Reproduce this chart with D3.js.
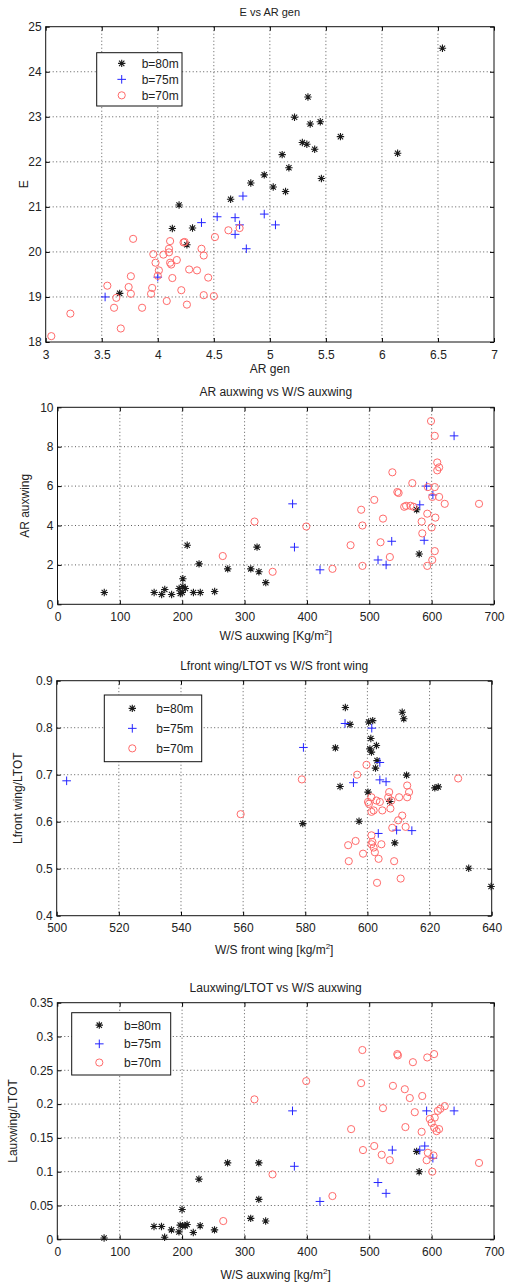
<!DOCTYPE html>
<html>
<head>
<meta charset="utf-8">
<script src="https://cdn.jsdelivr.net/npm/d3@7"></script>
<style>
  body { margin: 0; background: #fff; }
  text { font-family: "Liberation Sans", Arial, sans-serif; fill: #222; }
</style>
</head>
<body>
<svg id="svg" width="505" height="1283"></svg>
<script>
// series labels
var seriesNames = ["b=80m", "b=75m", "b=70m"];

// panel 1 : E vs AR gen  [AR gen, E]
var eAr80 = [[3.66,19.08],[4.19,21.04],[4.13,20.52],[4.31,20.53],[4.26,20.16],[4.65,21.17],[4.83,21.53],
  [4.95,21.71],[5.03,21.44],[5.14,21.34],[5.17,21.87],[5.11,22.16],[5.22,22.99],[5.29,22.43],[5.33,22.39],
  [5.34,23.44],[5.36,22.84],[5.40,22.28],[5.45,22.89],[5.46,21.63],[5.63,22.56],[6.14,22.19],[6.54,24.52]];
var eAr75 = [[3.53,19.0],[4.0,19.44],[4.39,20.65],[4.53,20.78],[4.76,21.24],[4.69,20.76],[4.69,20.39],
  [4.73,20.6],[4.79,20.07],[4.95,20.84],[5.05,20.6]];
var eAr70 = [[3.05,18.13],[3.22,18.63],[3.55,19.25],[3.63,18.98],[3.61,18.76],[3.67,18.30],[3.76,19.46],
  [3.74,19.22],[3.76,19.07],[3.86,18.76],[3.78,20.29],[3.95,19.2],[3.94,19.07],[3.96,19.95],[3.98,19.76],
  [4.01,19.59],[4.0,19.47],[4.08,18.91],[4.05,19.94],[4.11,20.24],[4.10,20.07],[4.10,19.99],[4.11,19.76],
  [4.12,19.72],[4.17,19.82],[4.13,19.42],[4.21,19.15],[4.26,18.83],[4.24,20.22],[4.23,20.21],[4.28,19.61],
  [4.35,19.59],[4.39,20.07],[4.41,19.92],[4.45,19.43],[4.41,19.04],[4.50,19.02],[4.51,20.33],[4.63,20.48],
  [4.73,20.53]];
var eArXTicks = [3, 3.5, 4, 4.5, 5, 5.5, 6, 6.5, 7];
var eArYTicks = [18, 19, 20, 21, 22, 23, 24, 25];

// panel 2 : AR auxwing vs W/S auxwing
var arAux80 = [[75,0.6],[155,0.6],[167,0.5],[172,0.75],[183,0.5],[195,0.8],[197,0.55],[200,0.6],[201,0.9],
  [201,1.3],[205,0.8],[208,3.0],[218,0.6],[229,0.6],[227,2.05],[252,0.65],[273,1.8],[310,1.8],[320,2.9],
  [323,1.65],[334,1.1],[576,4.8],[580,2.55]];
var arAux75 = [[377,5.1],[380,2.9],[421,1.75],[514,2.25],[527,2.0],[536,3.2],[581,5.05],[588,3.25],
  [592,6.0],[602,5.55],[636,8.55]];
var arAux70 = [[265,2.45],[316,4.2],[345,1.65],[399,3.95],[441,1.8],[470,3.0],[487,4.8],[489,4.0],[489,1.95],
  [508,5.3],[518,3.15],[522,4.35],[533,2.4],[537,6.7],[545,5.7],[547,5.65],[556,4.95],[559,5.0],[566,5.0],
  [571,4.95],[569,6.15],[584,4.2],[585,3.6],[593,4.6],[593,1.95],[594,5.95],[599,9.3],[605,8.55],[600,3.9],
  [601,2.25],[605,2.7],[606,4.4],[605,5.95],[601,5.45],[609,7.2],[612,6.95],[609,6.8],[612,5.45],[621,5.1],
  [676,5.1]];
var wsAuxTicks = [0, 100, 200, 300, 400, 500, 600, 700];
var arAuxYTicks = [0, 2, 4, 6, 8, 10];

// panel 3 : Lfront wing/LTOT vs W/S front wing
var lFront80 = [[592.9,0.843],[594.4,0.807],[600.4,0.812],[601.7,0.815],[611.2,0.833],[611.7,0.819],
  [601.1,0.777],[602.9,0.762],[600.8,0.755],[601.3,0.748],[603.1,0.73],[602.6,0.714],[589.7,0.757],
  [612.6,0.699],[591.2,0.675],[621.7,0.672],[622.8,0.674],[600.2,0.663],[607.2,0.643],[597.3,0.601],
  [579.2,0.596],[608.8,0.555],[632.6,0.501],[639.8,0.462]];
var lFront75 = [[503.2,0.687],[579.4,0.758],[592.8,0.809],[601.4,0.799],[604,0.726],[595.5,0.683],
  [604,0.689],[606,0.685],[603.5,0.575],[609.4,0.582],[614.3,0.581]];
var lFront70 = [[559.2,0.616],[578.9,0.69],[596.7,0.7],[599.7,0.721],[629.2,0.692],[600.2,0.642],
  [600.5,0.638],[601.3,0.652],[602.9,0.645],[604,0.642],[607,0.663],[606.7,0.652],[607.7,0.645],
  [610.2,0.652],[612.8,0.652],[612.8,0.677],[613.4,0.663],[601.3,0.621],[602,0.624],[604.8,0.624],
  [607.4,0.628],[611.2,0.613],[609.9,0.603],[608,0.587],[612.3,0.589],[596.2,0.559],[593.8,0.55],
  [598.6,0.532],[601.3,0.571],[601.6,0.557],[601.3,0.552],[602,0.545],[604.5,0.552],[602.4,0.535],
  [603.6,0.521],[594,0.516],[608.6,0.516],[603.1,0.47],[610.7,0.479]];
var wsFrontTicks = [500, 520, 540, 560, 580, 600, 620, 640];
var lFrontYTicks = [0.4, 0.5, 0.6, 0.7, 0.8, 0.9];

// panel 4 : Lauxwing/LTOT vs W/S auxwing
var lAux80 = [[75,0.002],[155,0.019],[167,0.019],[172,0.003],[183,0.014],[195,0.011],[197,0.021],
  [200,0.044],[201,0.02],[205,0.02],[208,0.022],[218,0.01],[229,0.02],[227,0.089],[252,0.014],
  [273,0.113],[310,0.031],[323,0.113],[323,0.059],[334,0.027],[576,0.13],[580,0.1]];
var lAux75 = [[377,0.19],[380,0.108],[421,0.056],[514,0.084],[527,0.068],[537,0.132],[581,0.132],
  [589,0.138],[592,0.19],[602,0.12],[636,0.19]];
var lAux70 = [[266,0.027],[316,0.207],[345,0.096],[399,0.234],[441,0.064],[471,0.163],[487,0.231],
  [489,0.28],[490,0.132],[508,0.138],[520,0.125],[522,0.194],[533,0.117],[538,0.227],[545,0.274],
  [546,0.272],[557,0.222],[558,0.166],[565,0.209],[570,0.262],[573,0.188],[585,0.212],[584,0.159],
  [593,0.269],[604,0.274],[592,0.117],[594,0.128],[603,0.124],[597,0.178],[600,0.172],[605,0.18],
  [604,0.165],[608,0.16],[612,0.163],[610,0.19],[614,0.193],[621,0.197],[601,0.1],[676,0.113]];
var lAuxYTicks = [0, 0.05, 0.1, 0.15, 0.2, 0.25, 0.3, 0.35];

var svg = d3.select("#svg");

var starPath = function(cx, cy, s) {
  var d = s * 0.72;
  return "M" + (cx - s) + "," + cy + "H" + (cx + s) +
    "M" + cx + "," + (cy - s) + "V" + (cy + s) +
    "M" + (cx - d) + "," + (cy - d) + "L" + (cx + d) + "," + (cy + d) +
    "M" + (cx - d) + "," + (cy + d) + "L" + (cx + d) + "," + (cy - d);
};
var plusPath = function(cx, cy, s) {
  return "M" + (cx - s) + "," + cy + "H" + (cx + s) + "M" + cx + "," + (cy - s) + "V" + (cy + s);
};

var drawMarks = function(g, pts, kind) {
  if (kind == 0) {
    g.selectAll(null).data(pts).enter().append("path")
      .attr("d", function(d) { return starPath(d[0], d[1], 3.7); })
      .attr("stroke", "#1a1a1a").attr("stroke-width", 1.1).attr("fill", "none");
  } else if (kind == 1) {
    g.selectAll(null).data(pts).enter().append("path")
      .attr("d", function(d) { return plusPath(d[0], d[1], 4.3); })
      .attr("stroke", "#2424ff").attr("stroke-width", 1).attr("fill", "none");
  } else {
    g.selectAll(null).data(pts).enter().append("circle")
      .attr("cx", function(d) { return d[0]; })
      .attr("cy", function(d) { return d[1]; })
      .attr("r", 3.6)
      .attr("stroke", "#ff6b6b").attr("stroke-width", 1).attr("fill", "none");
  }
};

var panel = function(o) {
  var x = d3.scaleLinear().domain(o.xDom).range([o.l, o.r]);
  var y = d3.scaleLinear().domain(o.yDom).range([o.b, o.t]);
  var g = svg.append("g");

  // dotted grid
  g.selectAll(null).data(o.xTicks.slice(1, -1)).enter().append("line")
    .attr("x1", x).attr("x2", x).attr("y1", o.t).attr("y2", o.b)
    .attr("stroke", "#333").attr("stroke-width", 0.8).attr("stroke-dasharray", "1,2.5");
  g.selectAll(null).data(o.yTicks.slice(1, -1)).enter().append("line")
    .attr("y1", y).attr("y2", y).attr("x1", o.l).attr("x2", o.r)
    .attr("stroke", "#333").attr("stroke-width", 0.8).attr("stroke-dasharray", "1,2.5");

  // axes, ticks pointing inward
  var fmt = function(d) { return String(d); };
  g.append("g").attr("transform", "translate(0," + o.b + ")")
    .call(d3.axisBottom(x).tickValues(o.xTicks).tickFormat(fmt).tickSize(-4).tickSizeOuter(0).tickPadding(8));
  g.append("g").attr("transform", "translate(0," + o.t + ")")
    .call(d3.axisTop(x).tickValues(o.xTicks).tickFormat("").tickSize(-4).tickSizeOuter(0));
  g.append("g").attr("transform", "translate(" + o.l + ",0)")
    .call(d3.axisLeft(y).tickValues(o.yTicks).tickFormat(fmt).tickSize(-4).tickSizeOuter(0).tickPadding(4));
  g.append("g").attr("transform", "translate(" + o.r + ",0)")
    .call(d3.axisRight(y).tickValues(o.yTicks).tickFormat("").tickSize(-4).tickSizeOuter(0));
  g.selectAll(".tick text").attr("font-size", 12).attr("font-family", null).style("fill", "#222");
  g.selectAll(".domain").remove();

  g.append("rect").attr("x", o.l).attr("y", o.t).attr("width", o.r - o.l).attr("height", o.b - o.t)
    .attr("fill", "none").attr("stroke", "#111").attr("stroke-width", 1);

  // data
  o.series.forEach(function(s, i) {
    var pts = s.map(function(d) { return [x(d[0]), y(d[1])]; });
    drawMarks(g, pts, i);
  });

  // texts
  g.append("text").attr("x", (o.l + o.r) / 2).attr("y", o.t - 11).attr("text-anchor", "middle")
    .attr("font-size", o.titleSize || 12).text(o.title);
  g.append("text").attr("x", (o.l + o.r) / 2).attr("y", o.xlY).attr("text-anchor", "middle")
    .attr("font-size", 12).html(o.xlabel);
  g.append("text").attr("transform", "translate(" + o.ylX + "," + (o.t + o.b) / 2 + ") rotate(-90)")
    .attr("text-anchor", "middle").attr("font-size", 12).text(o.ylabel);

  // legend (box x, y, w, h, marker offset, text offset)
  if (!o.lg) return;
  var lg = g.append("g");
  lg.append("rect").attr("x", o.lg[0]).attr("y", o.lg[1]).attr("width", o.lg[2]).attr("height", o.lg[3])
    .attr("fill", "#fff").attr("stroke", "#111").attr("stroke-width", 1);
  seriesNames.forEach(function(name, i) {
    var cy = o.lg[1] + o.lg[3] * (0.2 + 0.3 * i);
    drawMarks(lg, [[o.lg[0] + o.lg[4], cy]], i);
    lg.append("text").attr("x", o.lg[0] + o.lg[5]).attr("y", cy + 4.5).attr("font-size", 12).text(name);
  });
};

var sq = "<tspan dy='-5' font-size='8'>2</tspan><tspan dy='5'>]</tspan>";

panel({ l: 45.7, r: 494, t: 26.7, b: 342, xDom: [3, 7], yDom: [18, 25],
  xTicks: eArXTicks, yTicks: eArYTicks, series: [eAr80, eAr75, eAr70],
  title: "E vs AR gen", titleSize: 11, xlabel: "AR gen", ylabel: "E", xlY: 373, ylX: 28,
  lg: [96.7, 52.7, 85.3, 53.3, 25, 45] });

panel({ l: 57.5, r: 494, t: 407.3, b: 604.3, xDom: [0, 700], yDom: [0, 10],
  xTicks: wsAuxTicks, yTicks: arAuxYTicks, series: [arAux80, arAux75, arAux70],
  title: "AR auxwing vs W/S auxwing", xlabel: "W/S auxwing [Kg/m" + sq,
  ylabel: "AR auxwing", xlY: 640, ylX: 29, lg: null });

panel({ l: 56.7, r: 491.7, t: 680.7, b: 915.7, xDom: [500, 640], yDom: [0.4, 0.9],
  xTicks: wsFrontTicks, yTicks: lFrontYTicks, series: [lFront80, lFront75, lFront70],
  title: "Lfront wing/LTOT vs W/S front wing", xlabel: "W/S front wing [kg/m" + sq,
  ylabel: "Lfront wing/LTOT", xlY: 954, ylX: 22, lg: [104.3, 695, 97.4, 66.7, 28, 52] });

panel({ l: 57.3, r: 494, t: 1002.7, b: 1239.3, xDom: [0, 700], yDom: [0, 0.35],
  xTicks: wsAuxTicks, yTicks: lAuxYTicks, series: [lAux80, lAux75, lAux70],
  title: "Lauxwing/LTOT vs W/S auxwing", xlabel: "W/S auxwing [kg/m" + sq,
  ylabel: "Lauxwing/LTOT", xlY: 1279, ylX: 17, lg: [71.7, 1012.7, 99, 62.3, 27.6, 52.3] });
</script>
</body>
</html>
